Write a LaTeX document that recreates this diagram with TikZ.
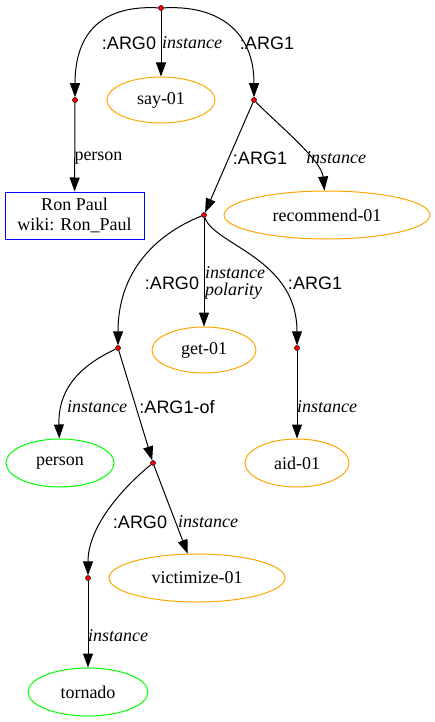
\documentclass[tikz,border=0pt]{standalone}
\usepackage{fontspec}
\setmainfont{Liberation Serif}
\newfontfamily\rolefont{Liberation Sans}
\usetikzlibrary{arrows.meta,shapes.geometric}
\definecolor{amrorange}{HTML}{FFA500}
\definecolor{amrgreen}{HTML}{00FF00}
\definecolor{amrblue}{HTML}{0000FF}
\tikzset{
  vdot/.style={circle,inner sep=0pt,minimum size=5pt,fill=red,draw=black,line width=0.5pt},
  concept/.style={ellipse,inner sep=0pt,line width=1pt,font=\fontsize{18}{20}\selectfont},
  pred/.style={concept,draw=amrorange},
  ent/.style={concept,draw=amrgreen},
  namebox/.style={rectangle,draw=amrblue,line width=1pt,align=center,inner sep=0pt,
    minimum width=139pt,minimum height=47pt,font=\fontsize{18}{20}\selectfont},
  edge/.style={line width=1pt,-{Triangle[length=14pt,width=10pt]}},
  role/.style={font=\rolefont\fontsize{18}{20}\selectfont,inner sep=0pt},
  inst/.style={font=\itshape\fontsize{18}{20}\selectfont,inner sep=0pt,align=left},
  plain/.style={font=\fontsize{18}{20}\selectfont,inner sep=0pt}
}
\begin{document}
\begin{tikzpicture}[x=1pt,y=-1pt]
\useasboundingbox (0,0) rectangle (434,722);
% nodes
\node[vdot] (root) at (161,8) {};
\node[vdot] (a0) at (75,100) {};
\node[pred,minimum width=108pt,minimum height=46pt] (say) at (161,100) {say-01};
\node[vdot] (a1) at (254,100) {};
\node[namebox] (ron) at (74.5,215.5) {Ron Paul\\wiki: Ron\_Paul};
\node[vdot] (d2) at (204,215) {};
\node[pred,minimum width=206pt,minimum height=48pt] (rec) at (327,215) {recommend-01};
\node[vdot] (a0b) at (118,348) {};
\node[pred,minimum width=104pt,minimum height=46pt] (get) at (204,350) {get-01};
\node[vdot] (a1b) at (297,348) {};
\node[ent,minimum width=108pt,minimum height=48pt] (person) at (60,463) {person};
\node[vdot] (d3) at (153,463) {};
\node[pred,minimum width=104pt,minimum height=48pt] (aid) at (297,463) {aid-01};
\node[vdot] (d4) at (88,578) {};
\node[pred,minimum width=176pt,minimum height=48pt] (vic) at (197,578) {victimize-01};
\node[ent,minimum width=120pt,minimum height=48pt] (torn) at (88,692) {tornado};
% edges
\draw[edge] (root) .. controls +(-56,-3) and +(0,-70) .. (a0);
\draw[edge] (root) -- (say);
\draw[edge] (root) .. controls +(56,-3) and +(0,-70) .. (a1);
\draw[edge] (a0) -- (ron);
\draw[edge] (a1) -- (d2);
\draw[edge] (a1) .. controls +(21,22) and +(-3,-31) .. (rec.96);
\draw[edge] (d2) .. controls +(-50,20) and +(0,-75) .. (a0b);
\draw[edge] (d2) -- (get);
\draw[edge] (d2) .. controls +(10,30) and +(0,-90) .. (a1b);
\draw[edge] (a0b) .. controls +(-43,20) and +(-2,-70) .. (person);
\draw[edge] (a0b) -- (d3);
\draw[edge] (a1b) -- (aid);
\draw[edge] (d3) .. controls +(-33,27) and +(0,-50) .. (d4);
\draw[edge] (d3) -- (vic);
\draw[edge] (d4) -- (torn);
% labels
\node[role] (l1) at (129,43) {:ARG0};
\node[inst] (l2) at (192,43) {instance};
\node[role] (l3) at (267,43) {:ARG1};
\node[plain] (l4) at (98.5,158) {person};
\node[role] (l5) at (260,158) {:ARG1};
\node[inst] (l6) at (336,158) {instance};
\node[role] (l7) at (172,283) {:ARG0};
\node[inst] (l8) at (235,283) {instance\\[-3pt]polarity};
\node[role] (l9) at (315,283) {:ARG1};
\node[inst] (l10) at (97,407) {instance};
\node[role] (l11) at (177,407) {:ARG1-of};
\node[inst] (l12) at (327,407) {instance};
\node[role] (l13) at (140,522) {:ARG0};
\node[inst] (l14) at (208,522) {instance};
\node[inst] (l15) at (118,636) {instance};
\end{tikzpicture}
\end{document}
